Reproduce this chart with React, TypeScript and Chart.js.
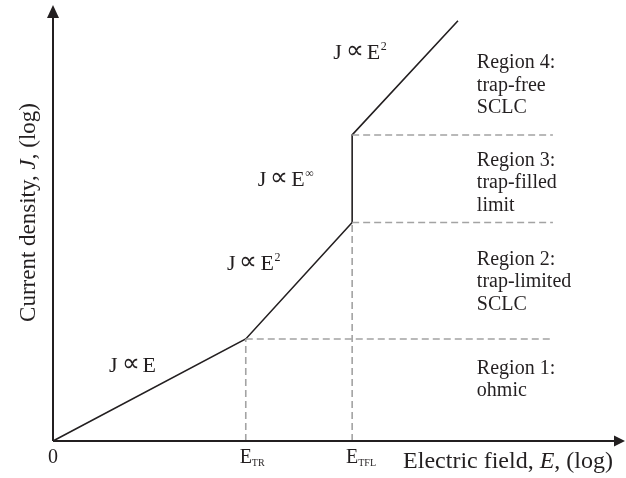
import { useEffect, useRef } from "react";
import { Chart, registerables } from "chart.js";

Chart.register(...registerables);

// Piecewise J–E characteristic on log–log axes (arbitrary units)
const FIELD = [0, 33.7, 52.3, 52.3, 70.8];
const CURRENT = [0, 23.4, 50.1, 70.2, 96.4];
const E_TR = 33.7;
const E_TFL = 52.3;

// Region boundaries: start field and current level of each dashed line
const BOUNDARY_FIELD = [E_TR, E_TFL, E_TFL];
const BOUNDARY_CURRENT = [23.4, 50.1, 70.2];
const BOUNDARY_END = 87.4;

// x-axis tick marks
const TICK_VALUES = [0, E_TR, E_TFL];
const TICK_MAIN = ["0", "E", "E"];
const TICK_SUB = ["", "TR", "TFL"];

// Region descriptions
const REGION_TEXT = [
  ["Region 1:", "ohmic"],
  ["Region 2:", "trap-limited", "SCLC"],
  ["Region 3:", "trap-filled", "limit"],
  ["Region 4:", "trap-free", "SCLC"],
];
const REGION_AT_FIELD = 74.1;
const REGION_AT_CURRENT = [15.4, 40.4, 63.1, 85.5];

// Power-law annotations J ∝ E^n
const LAW_EXPONENT = ["", "2", "\u221E", "2"];
const LAW_AT_FIELD = [9.8, 30.4, 35.8, 49.0];
const LAW_AT_CURRENT = [15.8, 39.2, 58.5, 87.6];

const X_MAX = 100;
const Y_MAX = 100;

const SERIF = "'Liberation Serif', 'Times New Roman', serif";
const INK = "#231f20";
const DASH = "#a3a3a3";

type Run = [string, string, number];

function drawRuns(ctx: CanvasRenderingContext2D, x: number, y: number, runs: Run[]) {
  let cx = x;
  for (const [text, font, dy] of runs) {
    ctx.font = font;
    ctx.fillText(text, cx, y + dy);
    cx += ctx.measureText(text).width;
  }
}

function runsWidth(ctx: CanvasRenderingContext2D, runs: Run[]) {
  let w = 0;
  for (const [text, font] of runs) {
    ctx.font = font;
    w += ctx.measureText(text).width;
  }
  return w;
}

const decorations = {
  id: "decorations",
  afterDatasetsDraw(chart: any) {
    const ctx: CanvasRenderingContext2D = chart.ctx;
    const xs = chart.scales.x;
    const ys = chart.scales.y;
    const area = chart.chartArea;
    const ox = xs.getPixelForValue(0);
    const oy = ys.getPixelForValue(0);
    ctx.save();

    // axes with arrow heads
    ctx.strokeStyle = INK;
    ctx.fillStyle = INK;
    ctx.lineWidth = 2;
    ctx.beginPath();
    ctx.moveTo(ox, oy);
    ctx.lineTo(area.right - 9, oy);
    ctx.moveTo(ox, oy);
    ctx.lineTo(ox, area.top + 12);
    ctx.stroke();
    ctx.beginPath();
    ctx.moveTo(area.right, oy);
    ctx.lineTo(area.right - 11, oy - 5.5);
    ctx.lineTo(area.right - 11, oy + 5.5);
    ctx.closePath();
    ctx.fill();
    ctx.beginPath();
    ctx.moveTo(ox, area.top);
    ctx.lineTo(ox - 6, area.top + 13);
    ctx.lineTo(ox + 6, area.top + 13);
    ctx.closePath();
    ctx.fill();

    ctx.textBaseline = "alphabetic";
    ctx.textAlign = "left";

    // tick labels
    TICK_VALUES.forEach((v, i) => {
      const px = xs.getPixelForValue(v);
      ctx.font = `20px ${SERIF}`;
      const w = ctx.measureText(TICK_MAIN[i]).width;
      drawRuns(ctx, px - w / 2, oy + 22, [
        [TICK_MAIN[i], `20px ${SERIF}`, 0],
        [TICK_SUB[i], `10px ${SERIF}`, 3],
      ]);
    });

    // axis titles
    const xTitle: Run[] = [
      ["Electric field, ", `24px ${SERIF}`, 0],
      ["E", `italic 24px ${SERIF}`, 0],
      [", (log)", `24px ${SERIF}`, 0],
    ];
    drawRuns(ctx, area.right - 12 - runsWidth(ctx, xTitle), oy + 27, xTitle);

    const yTitle: Run[] = [
      ["Current density, ", `23px ${SERIF}`, 0],
      ["J", `italic 23px ${SERIF}`, 0],
      [", (log)", `23px ${SERIF}`, 0],
    ];
    ctx.save();
    ctx.translate(35, 212.5);
    ctx.rotate(-Math.PI / 2);
    drawRuns(ctx, -runsWidth(ctx, yTitle) / 2, 0, yTitle);
    ctx.restore();

    // region descriptions
    REGION_TEXT.forEach((lines, i) => {
      const px = xs.getPixelForValue(REGION_AT_FIELD);
      const py = ys.getPixelForValue(REGION_AT_CURRENT[i]);
      ctx.font = `20px ${SERIF}`;
      lines.forEach((line, k) => ctx.fillText(line, px, py + k * 22.5));
    });

    // power-law annotations
    LAW_EXPONENT.forEach((exp, i) => {
      const px = xs.getPixelForValue(LAW_AT_FIELD[i]);
      const py = ys.getPixelForValue(LAW_AT_CURRENT[i]);
      let cx = px;
      ctx.font = `22px ${SERIF}`;
      ctx.fillText("J", cx, py);
      cx += ctx.measureText("J").width + 4;
      ctx.font = `25px ${SERIF}`;
      ctx.fillText("\u221D", cx, py - 1);
      cx += ctx.measureText("\u221D").width + 3;
      ctx.font = `22px ${SERIF}`;
      ctx.fillText("E", cx, py);
      cx += ctx.measureText("E").width + 0.5;
      if (exp) {
        ctx.font = `12px ${SERIF}`;
        ctx.fillText(exp, cx, py - 9);
      }
    });

    ctx.restore();
  },
};

export default function App() {
  const canvasRef = useRef<HTMLCanvasElement | null>(null);

  useEffect(() => {
    const canvas = canvasRef.current;
    if (!canvas) return;

    const dashed = (pts: { x: number; y: number }[]) => ({
      data: pts,
      showLine: true,
      borderColor: DASH,
      borderWidth: 1.6,
      borderDash: [7, 4],
      pointRadius: 0,
      clip: false as any,
    });

    const datasets: any[] = [];
    BOUNDARY_CURRENT.forEach((j, i) => {
      datasets.push(dashed([{ x: BOUNDARY_FIELD[i], y: j }, { x: BOUNDARY_END, y: j }]));
    });
    datasets.push(dashed([{ x: E_TR, y: 0 }, { x: E_TR, y: BOUNDARY_CURRENT[0] }]));
    datasets.push(dashed([{ x: E_TFL, y: 0 }, { x: E_TFL, y: BOUNDARY_CURRENT[1] }]));
    datasets.push({
      data: FIELD.map((x, i) => ({ x, y: CURRENT[i] })),
      showLine: true,
      borderColor: INK,
      borderWidth: 1.6,
      pointRadius: 0,
      clip: false,
    });

    const chart = new Chart(canvas, {
      type: "scatter",
      data: { datasets },
      options: {
        responsive: false,
        animation: false,
        devicePixelRatio: 1,
        layout: { padding: { left: 53, right: 1, top: 5, bottom: 37 } },
        plugins: { legend: { display: false }, tooltip: { enabled: false } },
        scales: {
          x: { type: "linear", min: 0, max: X_MAX, display: false },
          y: { type: "linear", min: 0, max: Y_MAX, display: false },
        },
      },
      plugins: [decorations],
    });

    return () => chart.destroy();
  }, []);

  return (
    <div style={{ position: "fixed", left: 0, top: 0, width: 626, height: 478, background: "#fff" }}>
      <canvas ref={canvasRef} width={626} height={478} />
    </div>
  );
}
